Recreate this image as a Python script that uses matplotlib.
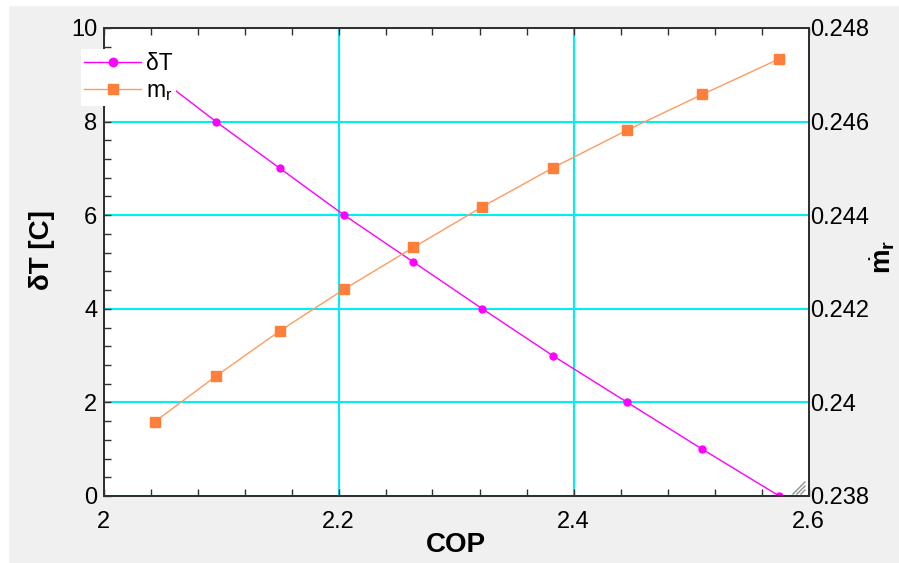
import numpy as np
import matplotlib
matplotlib.use("Agg")
import matplotlib.pyplot as plt
from matplotlib.ticker import FixedLocator, FixedFormatter, MultipleLocator
from matplotlib.lines import Line2D

plt.rcParams['font.family'] = ['Liberation Sans', 'DejaVu Sans']
plt.rcParams['mathtext.fontset'] = 'custom'
plt.rcParams['mathtext.rm'] = 'Liberation Sans'
plt.rcParams['mathtext.it'] = 'Liberation Sans:italic'
plt.rcParams['mathtext.bf'] = 'Liberation Sans:bold'

# data
cop = [2.0438, 2.0957, 2.1502, 2.2049, 2.2637, 2.3224, 2.3823, 2.4458, 2.5096, 2.5751]
delta_t = [9, 8, 7, 6, 5, 4, 3, 2, 1, 0]
m_r = [0.23959, 0.24056, 0.24153, 0.24242, 0.24331, 0.24418, 0.24501, 0.24582, 0.24658, 0.24734]

x_ticks = [2.0, 2.2, 2.4, 2.6]
x_labels = ["2", "2.2", "2.4", "2.6"]
y_ticks = [0, 2, 4, 6, 8, 10]
y_labels = ["0", "2", "4", "6", "8", "10"]
y2_ticks = [0.238, 0.240, 0.242, 0.244, 0.246, 0.248]
y2_labels = ["0.238", "0.24", "0.242", "0.244", "0.246", "0.248"]

MAGENTA = "#ff00ff"
ORANGE = "#ff7f3a"
ORANGE_LINE = "#ff9a60"
CYAN = "#00f0f0"
SPINE = "#303030"

W, H = 899, 563
fig = plt.figure(figsize=(W / 100, H / 100), dpi=100, facecolor="#f0f0f0")
# white screenshot border on the left and top
fig.patches.append(plt.Rectangle((0, 0), 8 / W, 1, transform=fig.transFigure,
                                 color="white", zorder=0))
fig.patches.append(plt.Rectangle((0, 1 - 5 / H), 1, 5 / H, transform=fig.transFigure,
                                 color="white", zorder=0))

ax = fig.add_axes([103.5 / W, 67 / H, 705 / W, 468 / H])
ax2 = ax.twinx()

ax.plot(cop, delta_t, color=MAGENTA, lw=1.0, marker="o", ms=5, mec=MAGENTA, zorder=3)
ax2.plot(cop, m_r, color=ORANGE_LINE, lw=1.0, marker="s", ms=6.5, mfc=ORANGE, mec=ORANGE,
         zorder=3)

ax.set_xlim(2, 2.6)
ax.set_ylim(0, 10)
ax2.set_ylim(0.238, 0.248)

ax.xaxis.set_major_locator(FixedLocator(x_ticks))
ax.xaxis.set_major_formatter(FixedFormatter(x_labels))
ax.xaxis.set_minor_locator(MultipleLocator(0.04))
ax.yaxis.set_major_locator(FixedLocator(y_ticks))
ax.yaxis.set_major_formatter(FixedFormatter(y_labels))
ax.yaxis.set_minor_locator(MultipleLocator(0.4))
ax2.yaxis.set_major_locator(FixedLocator(y2_ticks))
ax2.yaxis.set_major_formatter(FixedFormatter(y2_labels))

ax.grid(True, which="major", color=CYAN, lw=1.5)

ax.tick_params(axis="x", which="both", direction="in", top=True, length=5, width=1,
               color=SPINE, labelsize=17, pad=11)
ax.tick_params(axis="y", which="both", direction="in", length=5, width=1,
               color=SPINE, labelsize=17, pad=4.5)
ax2.tick_params(axis="y", which="both", length=0, labelsize=17, pad=1.5)

for a in (ax, ax2):
    for s in a.spines.values():
        s.set_color(SPINE)
        s.set_linewidth(1.3)

ax.set_xlabel("COP", fontsize=20, fontweight="bold")
ax.xaxis.set_label_coords(0.5, -0.076)
ax.set_ylabel("δT [C]", fontsize=20, fontweight="bold")
ax.yaxis.set_label_coords(-0.069, 0.526)
ax2.set_ylabel(r"$\dot{\mathbf{m}}_{\mathbf{r}}$", fontsize=20, rotation=90)
ax2.yaxis.set_label_coords(1.085, 0.51)

# resize grip in the corner
for d in (4, 8, 12):
    fig.add_artist(Line2D([(805 - d) / W, 805 / W], [(563 - 494) / H, (563 - 494 + d) / H],
                          color="#909090", lw=1.0, transform=fig.transFigure))

handles = [
    Line2D([], [], color=MAGENTA, lw=1.0, marker="o", ms=6, mec=MAGENTA),
    Line2D([], [], color=ORANGE_LINE, lw=1.0, marker="s", ms=7, mfc=ORANGE, mec=ORANGE),
]
leg = fig.legend(handles, ["δT", r"m$_\mathrm{r}$"], loc="upper left",
                 bbox_to_anchor=(80.5 / W, 1 - 49 / H), bbox_transform=fig.transFigure,
                 borderaxespad=0, fontsize=16.5, handlelength=2.5, handletextpad=0.2,
                 labelspacing=0.15, borderpad=0.15, fancybox=False, framealpha=1,
                 facecolor="white", edgecolor="none")

fig.savefig("out.png", dpi=100, facecolor=fig.get_facecolor())
